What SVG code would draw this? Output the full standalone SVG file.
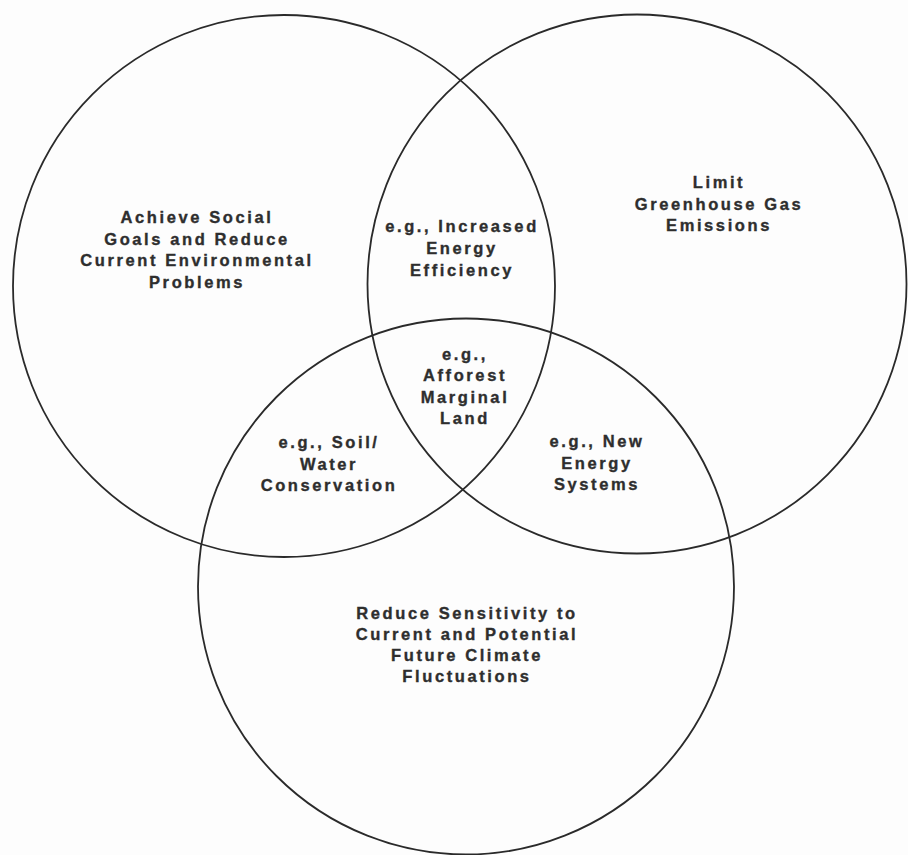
<svg xmlns="http://www.w3.org/2000/svg" width="908" height="855" viewBox="0 0 908 855">
<style>
.c{fill:none;stroke:#2a2a2a;stroke-width:1.8}
text{font-family:"Liberation Sans",Arial,sans-serif;font-weight:bold;font-size:16.5px;letter-spacing:2.6px;fill:#2e2e2e;stroke:#2e2e2e;stroke-width:0.35;text-anchor:middle}
</style>
<rect width="908" height="855" fill="#fdfdfd"/>
<g id="circle-social"><circle class="c" cx="284" cy="286" r="271"/>
<text x="197" y="223">Achieve Social</text><text x="197" y="244.5">Goals and Reduce</text><text x="197" y="266">Current Environmental</text><text x="197" y="287.5">Problems</text></g>
<g id="circle-ghg"><circle class="c" cx="637" cy="284" r="269.5"/>
<text x="719" y="188">Limit</text><text x="719" y="209.5">Greenhouse Gas</text><text x="719" y="231">Emissions</text></g>
<g id="circle-climate"><circle class="c" cx="466" cy="586.5" r="268"/>
<text x="467" y="619">Reduce Sensitivity to</text><text x="467" y="640">Current and Potential</text><text x="467" y="661">Future Climate</text><text x="467" y="682">Fluctuations</text></g>
<g id="overlap-efficiency"><text x="462" y="232">e.g., Increased</text><text x="462" y="254">Energy</text><text x="462" y="276">Efficiency</text></g>
<g id="overlap-afforest"><text x="465" y="359.5">e.g.,</text><text x="465" y="381">Afforest</text><text x="465" y="402.5">Marginal</text><text x="465" y="424">Land</text></g>
<g id="overlap-soil"><text x="329" y="448">e.g., Soil/</text><text x="329" y="469.5">Water</text><text x="329" y="491">Conservation</text></g>
<g id="overlap-energy"><text x="597" y="447">e.g., New</text><text x="597" y="468.5">Energy</text><text x="597" y="490">Systems</text></g>
<g id="connectors"/>
</svg>
